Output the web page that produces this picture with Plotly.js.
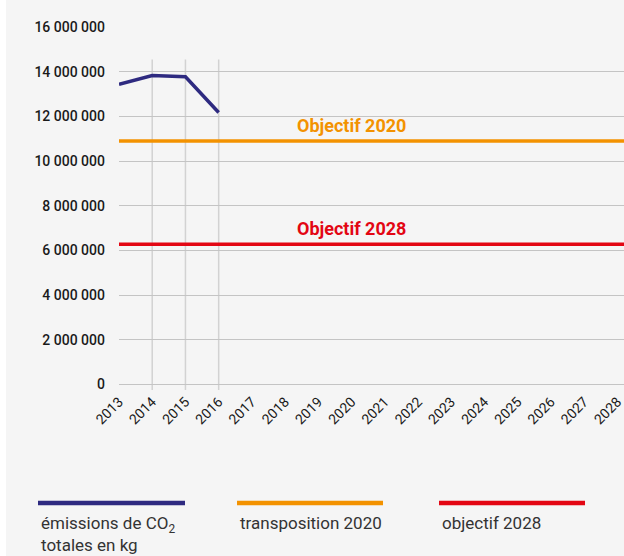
<!DOCTYPE html>
<html>
<head>
<meta charset="utf-8">
<script src="https://cdn.plot.ly/plotly-3.0.1.min.js"></script>
<style>
html,body{margin:0;padding:0;background:#ffffff;}
#chart{position:absolute;left:6px;top:0;width:618px;height:556px;}
</style>
</head>
<body>
<div id="chart"></div>
<script>
const years = [2013,2014,2015,2016,2017,2018,2019,2020,2021,2022,2023,2024,2025,2026,2027,2028];
const emissionYears = [2013,2014,2015,2016];
const emissions = [13440000,13830000,13770000,12170000];
const target2020 = 10900000;
const target2028 = 6280000;
const yTicks = [0,2000000,4000000,6000000,8000000,10000000,12000000,14000000,16000000];
const label2020 = "Objectif 2020";
const label2028 = "Objectif 2028";
const legendLabels = ["émissions de CO<sub>2</sub><br>totales en kg","transposition 2020","objectif 2028"];

const navy = "#2e2a80", orange = "#f39200", red = "#e30613";
const fontFam = "Roboto, 'Open Sans', sans-serif";

const traces = [{
  x: emissionYears, y: emissions, type: "scatter", mode: "lines",
  line: {color: navy, width: 3.5}, showlegend: false, hoverinfo: "skip", cliponaxis:false
}];

const shapes = [];
emissionYears.slice(1).forEach(function(yr){
  shapes.push({type:"line", xref:"x", yref:"y", x0:yr, x1:yr, y0:-250000, y1:14550000,
    line:{color:"#d2d2d2", width:1.5}, layer:"below"});
});
shapes.push({type:"line", xref:"paper", yref:"y", x0:0, x1:1, y0:target2020, y1:target2020, line:{color:orange, width:3.5}});
shapes.push({type:"line", xref:"paper", yref:"y", x0:0, x1:1, y0:target2028, y1:target2028, line:{color:red, width:3.5}});
const legendColors = [navy, orange, red];
const legendX = [[-0.1604,0.1307],[0.2337,0.5228],[0.6337,0.9228]];
legendColors.forEach(function(c,i){
  shapes.push({type:"line", xref:"paper", yref:"paper", x0:legendX[i][0], x1:legendX[i][1], y0:-0.311, y1:-0.311, line:{color:c, width:4.5}});
});

const annotations = [
  {x:2020, y:target2020, xref:"x", yref:"y", text:label2020, showarrow:false, yanchor:"bottom", yshift:3,
   font:{family:fontFam, size:18, color:orange, weight:"bold"}},
  {x:2020, y:target2028, xref:"x", yref:"y", text:label2028, showarrow:false, yanchor:"bottom", yshift:3,
   font:{family:fontFam, size:18, color:red, weight:"bold"}}
];
legendLabels.forEach(function(t,i){
  annotations.push({x:legendX[i][0], y:-0.332, xref:"paper", yref:"paper", text:t, showarrow:false,
    xanchor:"left", yanchor:"top", align:"left", xshift:1,
    font:{family:fontFam, size:17, color:"#333333"}});
});

const layout = {
  width:618, height:556,
  margin:{l:113, r:0, t:27, b:166},
  paper_bgcolor:"#f5f5f5", plot_bgcolor:"#f5f5f5",
  font:{family:fontFam, color:"#222222"},
  showlegend:false,
  xaxis:{range:[2013,2028.2], tickmode:"array", tickvals:years, ticktext:years.map(String),
    tickangle:-45, showgrid:false, zeroline:false, showline:false, ticks:"",
    ticklabeloverflow:"allow", automargin:false,
    tickfont:{family:fontFam, size:14, color:"#1a1a1a"}},
  yaxis:{range:[-250000,16000000], tickmode:"array", tickvals:yTicks,
    ticktext:yTicks.map(function(v){return v.toString().replace(/\B(?=(\d{3})+(?!\d))/g," ");}),
    showgrid:true, gridcolor:"#c4c4c4", gridwidth:1, zeroline:false, showline:false,
    ticklabelstandoff:13, automargin:false,
    tickfont:{family:fontFam, size:14, color:"#1a1a1a", weight:500}},
  shapes:shapes, annotations:annotations
};

Plotly.newPlot("chart", traces, layout, {displayModeBar:false, staticPlot:true});
</script>
</body>
</html>
